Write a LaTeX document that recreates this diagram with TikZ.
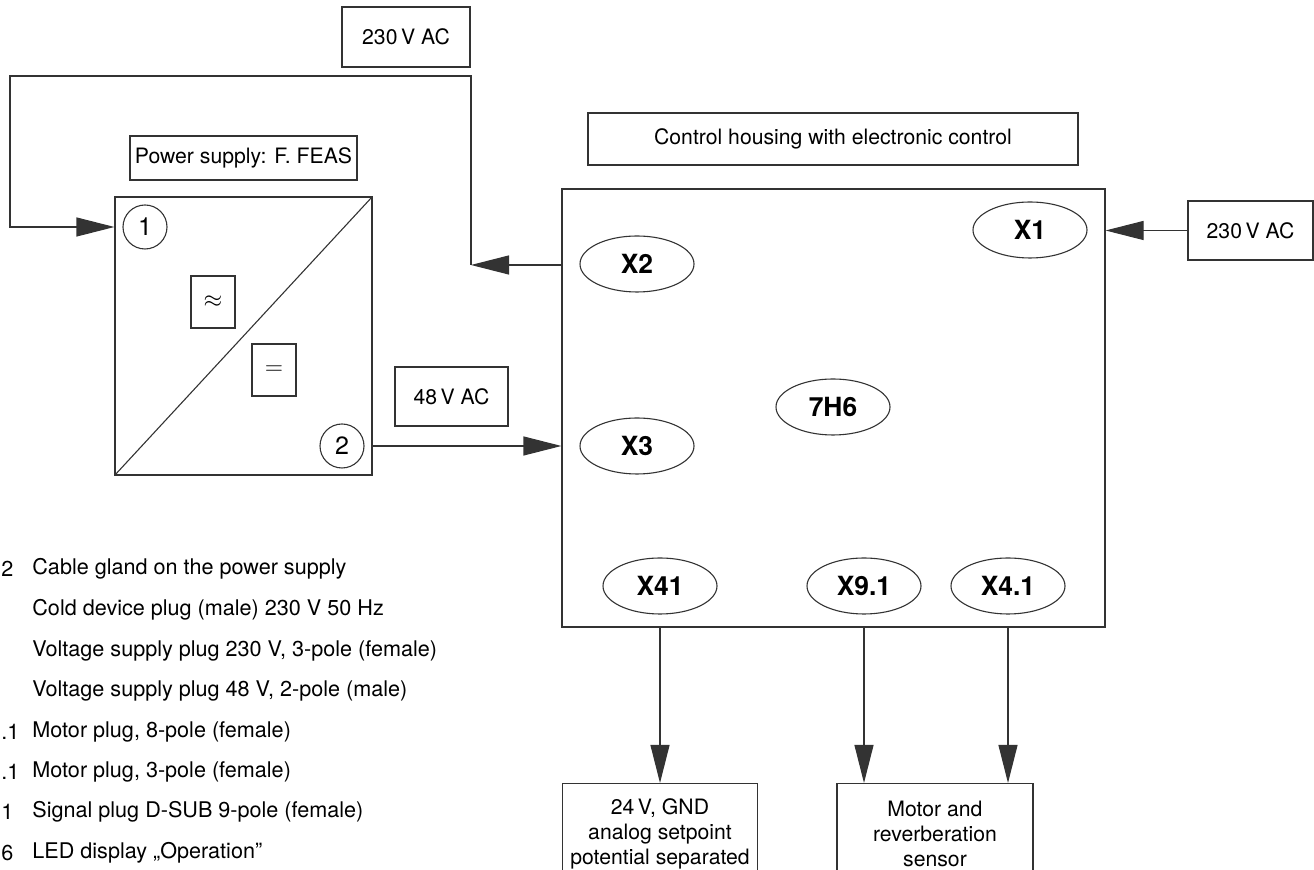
\documentclass[tikz,border=0pt]{standalone}
\usepackage{fontspec}
\setmainfont{TeX Gyre Heros}
\usetikzlibrary{arrows.meta,shapes.geometric}
\begin{document}
\begin{tikzpicture}[x=0.5pt,y=-0.5pt,
  lw/.style={line width=0.55pt, draw=black!80},
  box/.style={lw, rectangle, inner sep=0pt, align=center, font=\fontsize{10.6}{12.5}\selectfont},
  conn/.style={ellipse, lw, inner sep=0pt, minimum width=57pt, minimum height=28pt, font=\fontsize{13.2}{15}\selectfont\bfseries},
  num/.style={circle, lw, inner sep=0pt, minimum size=22pt, font=\fontsize{12.5}{14}\selectfont},
  wire/.style={lw, line join=miter},
  arr/.style={lw, line join=miter, -{Triangle[length=19pt,width=9.5pt]}},
  legend/.style={inner sep=0pt, font=\fontsize{10.8}{13}\selectfont}
]
\clip (0,0) rectangle (1314,870);
\useasboundingbox (0,0) rectangle (1314,870);

% left part: power supply
\node[box, minimum width=64pt, minimum height=30pt] (top) at (406,37) {230\,V AC};
\node[box, minimum width=113.5pt, minimum height=22pt] (pslabel) at (243.5,158) {Power supply: F. FEAS};
\node[box, minimum width=128.5pt, minimum height=139pt] (ps) at (243.5,336) {};
\draw[lw] (ps.south west) -- (ps.north east);
\node[box, minimum width=22pt, minimum height=26pt, font=\fontsize{12.5}{14}\selectfont] (ac) at (213,302) {$\approx$};
\node[box, minimum width=22pt, minimum height=26pt, font=\fontsize{12.5}{14}\selectfont] (dc) at (274,370) {$=$};
\node[num] (c1) at (145,227) {1};
\node[num] (c2) at (342,446) {2};
\node[box, minimum width=56.5pt, minimum height=29.5pt] (v48) at (451.5,396.5) {48\,V AC};

% right part: control housing
\node[box, minimum width=245pt, minimum height=26pt] (ctrl) at (833,139) {Control housing with electronic control};
\node[box, minimum width=271.5pt, minimum height=219pt] (housing) at (833.5,408) {};
\node[box, minimum width=62.5pt, minimum height=29.5pt] (r230) at (1250.5,230.5) {230\,V AC};

\node[conn] (X1) at (1030,230) {X1};
\node[conn] (X2) at (637,264) {X2};
\node[conn] (X3) at (637,446) {X3};
\node[conn] (H6) at (833,407) {7H6};
\node[conn] (X41) at (660,586) {X41};
\node[conn] (X91) at (864,586) {X9.1};
\node[conn] (X4) at (1008,586) {X4.1};

\node[box, minimum width=97.5pt, minimum height=50pt, anchor=north] (lb) at (660,783) {24\,V, GND\\analog setpoint\\potential separated};
\node[box, minimum width=98pt, minimum height=50pt, anchor=north] (rb) at (935,783) {Motor and\\reverberation\\sensor};

% connectors
\coordinate (k) at (471,265);
\coordinate (ka) at (471,76);
\coordinate (kb) at (10,76);
\draw[arr] (r230.west) -- (housing.east |- r230.west);
\draw[arr] (housing.west |- k) -- (k);
\draw[arr] (k) -- (ka) -- (kb) |- (ps.west |- c1);
\draw[arr] (ps.east |- c2) -- (housing.west |- c2);
\draw[arr] (X41 |- housing.south) -- (X41 |- lb.north);
\draw[arr] (X91 |- housing.south) -- (X91 |- rb.north);
\draw[arr] (X4 |- housing.south) -- (X4 |- rb.north);

% legend
\node[legend, anchor=west] (t1) at (32,569) {Cable gland on the power supply};
\node[legend, anchor=west] (t2) at (32,610) {Cold device plug (male) 230 V 50 Hz};
\node[legend, anchor=west] (t3) at (32,651) {Voltage supply plug 230 V, 3-pole (female)};
\node[legend, anchor=west] (t4) at (32,691) {Voltage supply plug 48 V, 2-pole (male)};
\node[legend, anchor=west] (t5) at (32,732) {Motor plug, 8-pole (female)};
\node[legend, anchor=west] (t6) at (32,772) {Motor plug, 3-pole (female)};
\node[legend, anchor=west] (t7) at (32,812) {Signal plug D-SUB 9-pole (female)};
\node[legend, anchor=west] (t8) at (32,853) {LED display „Operation”};
\node[legend, anchor=west] (n1) at (1,569) {2};
\node[legend, anchor=west] (n5) at (1,732) {.1};
\node[legend, anchor=west] (n6) at (1,772) {.1};
\node[legend, anchor=west] (n7) at (1,812) {1};
\node[legend, anchor=west] (n8) at (1,853) {6};
\end{tikzpicture}
\end{document}
